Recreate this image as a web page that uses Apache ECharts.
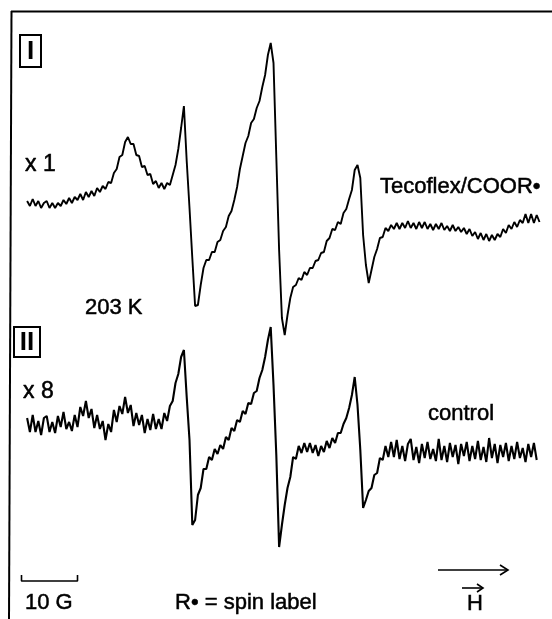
<!DOCTYPE html>
<html><head><meta charset="utf-8">
<script src="https://cdn.jsdelivr.net/npm/echarts@6/dist/echarts.min.js"></script>
<style>html,body{margin:0;padding:0;background:#fff}#c{width:552px;height:619px}</style>
</head><body><div id="c"></div>
<script>
// Field sampling (G): start and step
const fieldStart = 1.0;
const fieldStep = 0.5;
// Trace I: Tecoflex/COOR• (x 1), signal in arbitrary units
const traceI = [2,-3,4,-3,2,-5,0,2,-5,0,
 -5,0,-3,3,-1,5,0,6,3,9,
 3,11,6,12,7,15,11,17,14,21,
 20,30,34,46,48,61,66,59,59,48,
 47,36,37,28,29,19,22,15,20,14,
 20,18,28,38,54,75,97,42,-5,-55,
 -103,-102,-82,-65,-57,-57,-49,-49,-39,-37,
 -28,-24,-13,-8,3,16,34,47,60,67,
 80,84,95,102,116,128,148,160,140,46,
 -47,-115,-132,-112,-95,-84,-82,-75,-77,-69,
 -72,-65,-65,-58,-57,-50,-49,-38,-35,-26,
 -27,-19,-21,-10,-6,4,13,33,38,25,
 -32,-62,-80,-67,-54,-46,-35,-34,-25,-28,
 -22,-26,-20,-26,-20,-25,-18,-25,-20,-26,
 -19,-25,-19,-26,-21,-27,-21,-26,-20,-27,
 -23,-28,-22,-28,-24,-29,-25,-31,-26,-33,
 -29,-36,-30,-37,-31,-38,-32,-37,-31,-34,
 -26,-30,-22,-26,-19,-24,-17,-20,-11,-20,
 -11,-20,-12,-19];
// Trace II: control (x 8)
const traceII = [7,-7,10,-7,4,-10,7,9,-7,3,
 -8,9,-2,13,-4,3,-6,10,-2,18,
 9,24,7,16,-3,10,-4,4,-15,1,
 -7,15,3,19,11,28,12,20,-1,12,
 0,10,-8,6,-5,11,-4,6,-4,12,
 4,19,24,42,51,68,75,28,-15,-100,
 -95,-70,-63,-44,-44,-32,-35,-24,-29,-20,
 -24,-12,-15,-3,-6,5,3,14,11,22,
 21,32,34,47,55,68,85,98,40,-30,
 -122,-100,-80,-63,-52,-32,-34,-21,-28,-18,
 -27,-18,-28,-20,-31,-21,-27,-16,-23,-13,
 -18,-8,-8,1,7,17,30,48,20,-25,
 -83,-75,-66,-63,-50,-48,-33,-35,-21,-32,
 -17,-32,-15,-34,-21,-36,-19,-14,-35,-22,
 -38,-19,-33,-17,-34,-24,-36,-14,-35,-21,
 -37,-18,-32,-20,-39,-19,-31,-17,-36,-21,
 -34,-16,-35,-22,-37,-13,-33,-19,-38,-20,
 -32,-18,-36,-21,-34,-17,-33,-23,-37,-19,
 -32,-18,-35];
// Scale bar: 10 G
const scaleBarG = [0, 10];
const scaleBarLevel = -156;
const scaleBarTick = -150;

const toPairs = arr => arr.map((v, i) => [fieldStart + fieldStep * i, v]);
const FONT = "'Liberation Sans', Arial, Helvetica, sans-serif";
const chart = echarts.init(document.getElementById('c'), null, {renderer: 'canvas'});
const xAx = gi => ({type: 'value', gridIndex: gi, min: -3.84, max: 94.73, show: false});
const txt = (x, y, s, size, extra) => Object.assign({type: 'text', x: x, y: y,
  style: {text: s, font: (size || 22) + 'px ' + FONT, fill: '#000', stroke: '#000', lineWidth: 0.5,
          textVerticalAlign: 'middle', textAlign: 'left'}}, extra || {});
chart.setOption({
  animation: false,
  backgroundColor: '#fff',
  grid: [
    {left: 0, right: 0, top: 0, bottom: 0},
    {left: 0, right: 0, top: 0, bottom: 0}
  ],
  xAxis: [xAx(0), xAx(1)],
  yAxis: [
    {type: 'value', gridIndex: 0, min: -416, max: 203, show: false},
    {type: 'value', gridIndex: 1, min: -194, max: 425, show: false}
  ],
  series: [
    {type: 'line', xAxisIndex: 0, yAxisIndex: 0, data: toPairs(traceI), symbol: 'none',
     lineStyle: {color: '#000', width: 1.9}},
    {type: 'line', xAxisIndex: 1, yAxisIndex: 1, data: toPairs(traceII), symbol: 'none',
     lineStyle: {color: '#000', width: 2.1}},
    {type: 'line', xAxisIndex: 1, yAxisIndex: 1, symbol: 'none',
     data: [[scaleBarG[0], scaleBarTick], [scaleBarG[0], scaleBarLevel], [scaleBarG[1], scaleBarLevel], [scaleBarG[1], scaleBarTick]],
     lineStyle: {color: '#000', width: 1.6}}
  ],
  graphic: [
    {type: 'line', shape: {x1: 11.5, y1: 11, x2: 9, y2: 619}, style: {stroke: '#000', lineWidth: 2}},
    {type: 'line', shape: {x1: 11, y1: 11.5, x2: 552, y2: 11.5}, style: {stroke: '#000', lineWidth: 2}},
    {type: 'rect', shape: {x: 20, y: 35, width: 21, height: 32}, style: {stroke: '#000', fill: 'none', lineWidth: 2}},
    {type: 'text', x: 30.5, y: 52, style: {text: 'I', font: 'bold 26px ' + FONT, fill: '#000', textAlign: 'center', textVerticalAlign: 'middle'}},
    {type: 'rect', shape: {x: 14, y: 327, width: 26, height: 30}, style: {stroke: '#000', fill: 'none', lineWidth: 2}},
    {type: 'text', x: 27, y: 343, style: {text: 'II', font: 'bold 26px ' + FONT, fill: '#000', textAlign: 'center', textVerticalAlign: 'middle'}},
    txt(25, 165, 'x 1', 23),
    txt(85, 308, '203 K'),
    txt(380, 187, 'Tecoflex/COOR\u2022'),
    txt(23, 392, 'x 8', 23),
    txt(428, 414, 'control'),
    txt(25, 603, '10 G'),
    txt(175, 603, 'R\u2022 = spin label'),
    txt(467, 604, 'H'),
    {type: 'line', shape: {x1: 438, y1: 570, x2: 507, y2: 570}, style: {stroke: '#000', lineWidth: 1.6}},
    {type: 'polyline', shape: {points: [[500, 565], [508, 570], [500, 575]]}, style: {stroke: '#000', lineWidth: 1.6, fill: 'none'}},
    {type: 'line', shape: {x1: 462, y1: 588, x2: 483, y2: 588}, style: {stroke: '#000', lineWidth: 1.6}},
    {type: 'polyline', shape: {points: [[477, 584], [483, 588], [477, 592]]}, style: {stroke: '#000', lineWidth: 1.6, fill: 'none'}}
  ]
});
</script></body></html>
